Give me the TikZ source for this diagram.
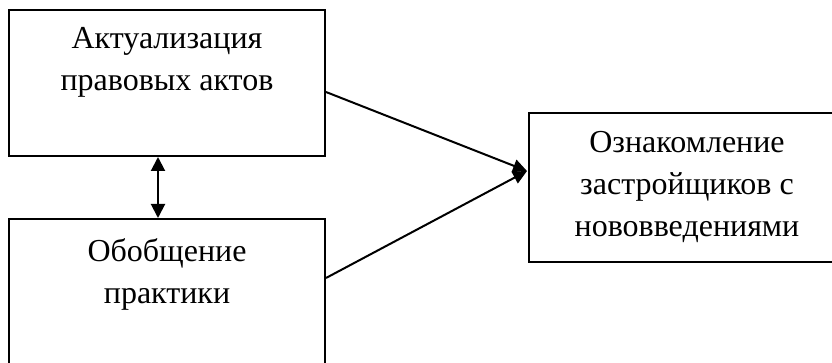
\documentclass[tikz,border=0pt]{standalone}
\usepackage{fontspec}
\setmainfont{Liberation Serif}
\usetikzlibrary{arrows.meta,calc}
\begin{document}
\begin{tikzpicture}[x=1pt,y=-1pt,
  box/.style={draw, line width=2pt, minimum width=316pt, inner sep=0pt},
  txt/.style={font=\fontsize{32}{42}\selectfont, align=center, inner sep=0pt},
  conn/.style={line width=2pt, -{Triangle[length=14pt,width=13pt]}},
  both/.style={line width=2pt, {Triangle[length=14pt,width=14pt]}-{Triangle[length=14pt,width=14pt]}}]
\useasboundingbox (0,0) rectangle (832,363);
\clip (0,0) rectangle (832,363);
\node[box, minimum height=146pt] (a) at (167,83) {};
\node[box, minimum height=161pt] (b) at (167,299.5) {};
\node[box, minimum height=149pt, txt] (c) at (687,187.5) {Ознакомление\\застройщиков с\\нововведениями};
\node[txt, anchor=north] (ta) at ($(a.north)+(0,18)$) {Актуализация\\правовых актов};
\node[txt, anchor=north] (tb) at ($(b.north)+(0,20)$) {Обобщение\\практики};
\coordinate (aout) at ($(a.east)+(0,9)$);
\coordinate (bout) at ($(b.east)+(0,-21.5)$);
\coordinate (cin) at ($(c.west)+(-1,-16.5)$);
\coordinate (as) at ($(a.south)+(-9,0)$);
\coordinate (bn) at ($(b.north)+(-9,0)$);
\draw[conn] (aout) -- (cin);
\draw[conn] (bout) -- (cin);
\draw[both] (as) -- (bn);
\end{tikzpicture}
\end{document}
